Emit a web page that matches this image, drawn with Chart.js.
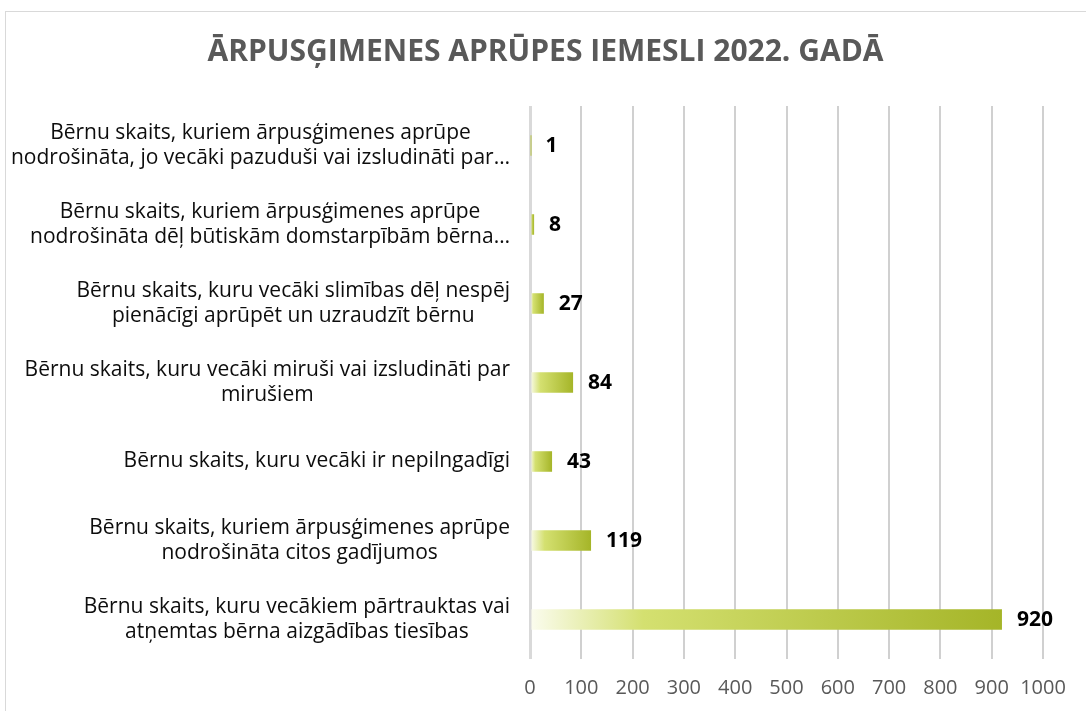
<!DOCTYPE html>
<html>
<head>
<meta charset="utf-8">
<script src="https://cdn.jsdelivr.net/npm/chart.js@4.4.1/dist/chart.umd.min.js"></script>
<style>
  html, body { margin: 0; padding: 0; background: #fff; overflow: hidden; }
  #frame { position: absolute; left: 5px; top: 11px; width: 1200px; height: 800px; border: 1px solid #d9d9d9; }
  #wrap { position: absolute; left: 0; top: 0; width: 1086px; height: 711px; }
</style>
</head>
<body>
<div id="frame"></div>
<div id="wrap"><canvas id="chart" width="1086" height="711"></canvas></div>
<script>
const titulo = 'ĀRPUSĢIMENES APRŪPES IEMESLI 2022. GADĀ'

const categorias = [
    ['Bērnu skaits, kuriem ārpusģimenes aprūpe', 'nodrošināta, jo vecāki pazuduši vai izsludināti par…'],
    ['Bērnu skaits, kuriem ārpusģimenes aprūpe', 'nodrošināta dēļ būtiskām domstarpībām bērna…'],
    ['Bērnu skaits, kuru vecāki slimības dēļ nespēj', 'pienācīgi aprūpēt un uzraudzīt bērnu'],
    ['Bērnu skaits, kuru vecāki miruši vai izsludināti par', 'mirušiem'],
    ['Bērnu skaits, kuru vecāki ir nepilngadīgi'],
    ['Bērnu skaits, kuriem ārpusģimenes aprūpe', 'nodrošināta citos gadījumos'],
    ['Bērnu skaits, kuru vecākiem pārtrauktas vai', 'atņemtas bērna aizgādības tiesības']
]

const valores = [1, 8, 27, 84, 43, 119, 920]

const ejeMin  = 0
const ejeMax  = 1000
const ejePaso = 100

// gradiente horizontal por barra: casi blanco -> verde claro -> verde oliva
function colorBarra(ctx) {
    const chart = ctx.chart
    if (!chart.chartArea) return '#b5c244'
    const x = chart.scales.x
    const x0 = x.getPixelForValue(0)
    const x1 = x.getPixelForValue(valores[ctx.dataIndex])
    if (x1 - x0 < 1) return '#b5c244'
    const g = chart.ctx.createLinearGradient(x0, 0, x1, 0)
    g.addColorStop(0, '#fbfcef')
    g.addColorStop(0.24, '#d4e070')
    g.addColorStop(1, '#a5b528')
    return g
}

// etiquetas del eje Y: bloque alineado a la derecha, líneas centradas entre sí
const etiquetasY = {
    id: 'etiquetasY',
    afterDraw(chart) {
        const { ctx, chartArea, scales } = chart
        ctx.save()
        ctx.font = '21px "Open Sans"'
        ctx.fillStyle = '#0d0d0d'
        ctx.textAlign = 'center'
        ctx.textBaseline = 'middle'
        const derecha = chartArea.left - 20
        const lineH = 25
        categorias.forEach((lineas, i) => {
            const cy = scales.y.getPixelForValue(i)
            const anchoMax = Math.max(...lineas.map(l => ctx.measureText(l).width))
            const cx = derecha - anchoMax / 2
            lineas.forEach((l, j) => {
                ctx.fillText(l, cx, cy + (j - (lineas.length - 1) / 2) * lineH)
            })
        })
        ctx.restore()
    }
}

// valores al final de cada barra
const etiquetasValor = {
    id: 'etiquetasValor',
    afterDatasetsDraw(chart) {
        const { ctx } = chart
        const meta = chart.getDatasetMeta(0)
        ctx.save()
        ctx.font = 'bold 21px "Open Sans"'
        ctx.fillStyle = '#000'
        ctx.textAlign = 'left'
        ctx.textBaseline = 'middle'
        meta.data.forEach((bar, i) => {
            ctx.fillText(String(valores[i]), bar.x + 15, bar.y + 1)
        })
        ctx.restore()
    }
}

new Chart(document.getElementById('chart').getContext('2d'), {
    type: 'bar',
    data: {
        labels: categorias,
        datasets: [{
            data: valores,
            backgroundColor: colorBarra,
            borderWidth: 0,
            barPercentage: 0.26,
            categoryPercentage: 1
        }]
    },
    options: {
        indexAxis: 'y',
        responsive: false,
        animation: false,
        layout: { padding: { left: 48, right: 43, top: 0, bottom: 0 } },
        plugins: {
            legend: { display: false },
            tooltip: { enabled: false },
            title: {
                display: true,
                text: titulo,
                color: '#595959',
                font: { family: 'Open Sans', size: 30, weight: 'bold' },
                padding: { top: 34, bottom: 36 }
            }
        },
        scales: {
            y: {
                grid: { display: false },
                border: { display: false },
                ticks: { display: false },
                afterFit: s => { s.width = 482 }
            },
            x: {
                min: ejeMin,
                max: ejeMax,
                border: { display: false },
                grid: {
                    drawTicks: false,
                    color: c => c.tick && c.tick.value === 0 ? '#d9d9d9' : '#d0d0d0',
                    lineWidth: c => c.tick && c.tick.value === 0 ? 3 : 2
                },
                ticks: {
                    stepSize: ejePaso,
                    padding: 17,
                    maxRotation: 0,
                    autoSkip: false,
                    color: '#595959',
                    font: { family: 'Open Sans', size: 20 },
                    callback: v => String(v)
                },
                afterFit: s => { s.height = 52 }
            }
        }
    },
    plugins: [etiquetasY, etiquetasValor]
})
</script>
</body>
</html>
